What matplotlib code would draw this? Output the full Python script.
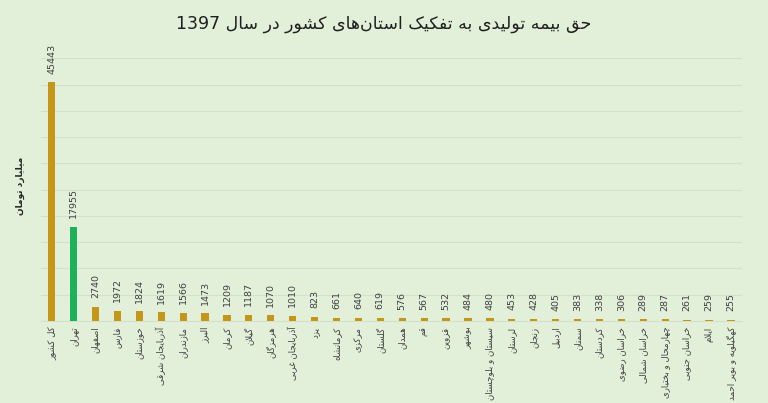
import matplotlib
matplotlib.use("Agg")
import matplotlib.pyplot as plt

categories = ["کل کشور", "تهران", "اصفهان", "فارس", "خوزستان", "آذربایجان شرقی",
              "مازندران", "البرز", "کرمان", "گیلان", "هرمزگان", "آذربایجان غربی",
              "یزد", "کرمانشاه", "مرکزی", "گلستان", "همدان", "قم", "قزوین", "بوشهر",
              "سیستان و بلوچستان", "لرستان", "زنجان", "اردبیل", "سمنان", "کردستان",
              "خراسان رضوی", "خراسان شمالی", "چهارمحال و بختیاری", "خراسان جنوبی",
              "ایلام", "کهگیلویه و بویر احمد"]
values = [45443, 17955, 2740, 1972, 1824, 1619, 1566, 1473, 1209, 1187, 1070, 1010,
          823, 661, 640, 619, 576, 567, 532, 484, 480, 453, 428, 405, 383, 338,
          306, 289, 287, 261, 259, 255]
highlight = ["تهران"]
title = "حق بیمه تولیدی به تفکیک استان‌های کشور در سال 1397"
ylabel = "میلیارد تومان"

# ---- minimal Arabic/Persian shaper (presentation forms + RTL order) ----
FORMS = {
    '\u0627': ('\uFE8D', '\uFE8E'), '\u0622': ('\uFE81', '\uFE82'),
    '\u0628': ('\uFE8F', '\uFE90', '\uFE91', '\uFE92'),
    '\u062A': ('\uFE95', '\uFE96', '\uFE97', '\uFE98'),
    '\u062B': ('\uFE99', '\uFE9A', '\uFE9B', '\uFE9C'),
    '\u062C': ('\uFE9D', '\uFE9E', '\uFE9F', '\uFEA0'),
    '\u062D': ('\uFEA1', '\uFEA2', '\uFEA3', '\uFEA4'),
    '\u062E': ('\uFEA5', '\uFEA6', '\uFEA7', '\uFEA8'),
    '\u062F': ('\uFEA9', '\uFEAA'), '\u0630': ('\uFEAB', '\uFEAC'),
    '\u0631': ('\uFEAD', '\uFEAE'), '\u0632': ('\uFEAF', '\uFEB0'),
    '\u0633': ('\uFEB1', '\uFEB2', '\uFEB3', '\uFEB4'),
    '\u0634': ('\uFEB5', '\uFEB6', '\uFEB7', '\uFEB8'),
    '\u0635': ('\uFEB9', '\uFEBA', '\uFEBB', '\uFEBC'),
    '\u0636': ('\uFEBD', '\uFEBE', '\uFEBF', '\uFEC0'),
    '\u0637': ('\uFEC1', '\uFEC2', '\uFEC3', '\uFEC4'),
    '\u0638': ('\uFEC5', '\uFEC6', '\uFEC7', '\uFEC8'),
    '\u0639': ('\uFEC9', '\uFECA', '\uFECB', '\uFECC'),
    '\u063A': ('\uFECD', '\uFECE', '\uFECF', '\uFED0'),
    '\u0641': ('\uFED1', '\uFED2', '\uFED3', '\uFED4'),
    '\u0642': ('\uFED5', '\uFED6', '\uFED7', '\uFED8'),
    '\u0643': ('\uFED9', '\uFEDA', '\uFEDB', '\uFEDC'),
    '\u0644': ('\uFEDD', '\uFEDE', '\uFEDF', '\uFEE0'),
    '\u0645': ('\uFEE1', '\uFEE2', '\uFEE3', '\uFEE4'),
    '\u0646': ('\uFEE5', '\uFEE6', '\uFEE7', '\uFEE8'),
    '\u0647': ('\uFEE9', '\uFEEA', '\uFEEB', '\uFEEC'),
    '\u0648': ('\uFEED', '\uFEEE'),
    '\u064A': ('\uFEF1', '\uFEF2', '\uFEF3', '\uFEF4'),
    '\u0649': ('\uFEEF', '\uFEF0'),
    '\u067E': ('\uFB56', '\uFB57', '\uFB58', '\uFB59'),
    '\u0686': ('\uFB7A', '\uFB7B', '\uFB7C', '\uFB7D'),
    '\u0698': ('\uFB8A', '\uFB8B'),
    '\u06A9': ('\uFB8E', '\uFB8F', '\uFB90', '\uFB91'),
    '\u06AF': ('\uFB92', '\uFB93', '\uFB94', '\uFB95'),
    '\u06CC': ('\uFBFC', '\uFBFD', '\uFBFE', '\uFBFF'),
}
LAMALEF = {'\u0627': ('\uFEFB', '\uFEFC'), '\u0622': ('\uFEF5', '\uFEF6')}


def shape(s):
    chars = list(s)
    n = len(chars)
    out = []
    i = 0
    def dual(c):
        return c in FORMS and len(FORMS[c]) == 4
    def joins(c):
        return c in FORMS
    while i < n:
        c = chars[i]
        prev = chars[i - 1] if i > 0 else None
        if c not in FORMS:
            out.append(c)
            i += 1
            continue
        pc = prev is not None and dual(prev)
        if c == '\u0644' and i + 1 < n and chars[i + 1] in LAMALEF:
            f = LAMALEF[chars[i + 1]]
            out.append(f[1] if pc else f[0])
            i += 2
            continue
        nxt = chars[i + 1] if i + 1 < n else None
        nc = dual(c) and nxt is not None and joins(nxt)
        f = FORMS[c]
        if pc and nc:
            g = f[3]
        elif pc:
            g = f[1]
        elif nc:
            g = f[2]
        else:
            g = f[0]
        out.append(g)
        i += 1
    out = [ch for ch in out if ch != '\u200c']
    rev = out[::-1]
    res = []
    buf = []
    for ch in rev:
        if ch.isdigit():
            buf.append(ch)
        else:
            if buf:
                res.extend(buf[::-1])
                buf = []
            res.append(ch)
    if buf:
        res.extend(buf[::-1])
    return ''.join(res)


plt.rcParams['font.family'] = ['DejaVu Sans']

bg = '#E2EFD9'
gold = '#C4961A'
green = '#1DB25A'

fig = plt.figure(figsize=(7.68, 4.03), dpi=100, facecolor=bg)
ax = fig.add_axes([0.053, 0.2035, 0.913, 0.652])
ax.set_facecolor(bg)

x = list(range(len(categories)))
colors = [green if c in highlight else gold for c in categories]
ax.bar(x, values, width=0.33, color=colors, zorder=3)

ax.set_xlim(-0.5, len(categories) - 0.5)
ax.set_ylim(0, 50000)
ax.set_yticks(range(0, 50001, 5000))
ax.yaxis.grid(True, color='#D2E2C8', linewidth=0.8, zorder=0)
ax.tick_params(axis='y', length=0, labelleft=False)
ax.tick_params(axis='x', length=0, pad=4)
for sp in ax.spines.values():
    sp.set_visible(False)
ax.spines['bottom'].set_visible(True)
ax.spines['bottom'].set_color('#D2E2C8')

ax.set_xticks(x)
ax.set_xticklabels([shape(c) for c in categories], rotation=90, fontsize=6.2,
                   color='#404040', va='top', ha='center')

for xi, v in zip(x, values):
    ax.annotate(str(v), (xi, v), xytext=(0, 6), textcoords='offset points',
                rotation=90, ha='center', va='bottom', fontsize=6.8, color='#404040')

fig.text(0.5, 0.94, shape(title), ha='center', va='center', fontsize=12.5,
         fontweight='medium', color='#1f1f1f')
fig.text(0.026, 0.54, shape(ylabel), rotation=90, ha='center', va='center',
         fontsize=6.5, fontweight='bold', color='#262626')

fig.savefig('out.png', dpi=100, facecolor=bg)
